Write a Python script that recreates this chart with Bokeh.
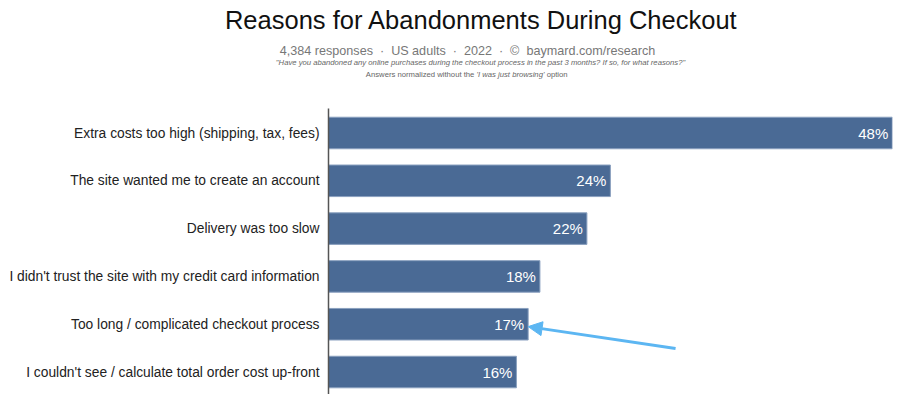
from bokeh.plotting import figure
from bokeh.layouts import column
from bokeh.models import Range1d, Label, Arrow, NormalHead, FixedTicker, ColumnDataSource
from bokeh.core.properties import value
from bokeh.embed import file_html
from bokeh.resources import INLINE

categories = [
    "Extra costs too high (shipping, tax, fees)",
    "The site wanted me to create an account",
    "Delivery was too slow",
    "I didn't trust the site with my credit card information",
    "Too long / complicated checkout process",
    "I couldn't see / calculate total order cost up-front",
]
values = [48, 24, 22, 18, 17, 16]
value_labels = ["48%", "24%", "22%", "18%", "17%", "16%"]

NB = "\u00a0"
title_text = "Reasons for Abandonments During Checkout"
subtitle_text = (f"4,384 responses{NB}{NB}\u00b7{NB}{NB}US adults{NB}{NB}\u00b7{NB}{NB}2022"
                 f"{NB}{NB}\u00b7{NB}{NB}\u00a9{NB}{NB}baymard.com/research")
question_text = "\"Have you abandoned any online purchases during the checkout process in the past 3 months? If so, for what reasons?\""
note_parts = [f"Answers normalized without the{NB}", "'I was just browsing'", f"{NB}option"]

FONT = "Liberation Sans"
W = 900
HEAD_H = 108
CHART_H = 394 - HEAD_H
LEFT = 328

# ---- header (title block) ----
head = figure(width=W, height=HEAD_H, output_backend="svg", toolbar_location=None,
              x_range=Range1d(0, W), y_range=Range1d(HEAD_H, 0),
              min_border=0, min_border_left=0, min_border_right=0,
              min_border_top=0, min_border_bottom=0)
head.frame_align = False
head.axis.visible = False
head.grid.visible = False
head.outline_line_color = None

def lab(text, px, py, size, color, style="normal", align="center"):
    head.add_layout(Label(x=px, y=py, text=text,
                          text_font=FONT, text_font_size=size, text_color=color,
                          text_font_style=style, text_align=align, text_baseline="middle"))

lab(title_text, 481, 19, "25.5px", "#111111")
lab(subtitle_text, 467, 50, "12.6px", "#777777")
lab(question_text, 480, 62, "7.7px", "#666666", style="italic")
lab(note_parts[0], 476, 74, "7.7px", "#666666", align="right")
lab(note_parts[1], 476, 74, "7.7px", "#666666", style="italic", align="left")
lab(note_parts[2], 544, 74, "7.7px", "#666666", align="left")

# ---- bar chart ----
idx = list(range(len(categories)))
src = ColumnDataSource(dict(y=idx, v=values, lab=value_labels))

p = figure(width=W, height=CHART_H, output_backend="svg", toolbar_location=None,
           x_range=Range1d(0, 48.02), y_range=Range1d(5.47, -0.5125),
           min_border_left=LEFT, min_border_right=8, min_border_top=0, min_border_bottom=0)
p.frame_align = False
p.outline_line_color = None
p.xgrid.visible = False
p.ygrid.visible = False
p.xaxis.visible = False

p.hbar(y="y", left=0, right="v", height=0.66, source=src,
       fill_color="#4a6a95", line_color="#8aa0bf", line_width=1)
p.text(x="v", y="y", text="lab", source=src, text_align="right", text_baseline="middle",
       x_offset=-4, text_color="white", text_font=value(FONT), text_font_size="15px")

yax = p.yaxis[0]
yax.ticker = FixedTicker(ticks=idx)
yax.major_label_overrides = {i: c for i, c in zip(idx, categories)}
yax.major_tick_line_color = None
yax.major_tick_out = 0
yax.major_tick_in = 0
yax.minor_tick_line_color = None
yax.axis_line_color = "#555555"
yax.axis_line_width = 1.5
yax.major_label_text_font = FONT
yax.major_label_text_font_size = "13.8px"
yax.major_label_text_color = "#222222"
yax.major_label_standoff = 9

# arrow annotation pointing at the 17% bar
p.add_layout(Arrow(end=NormalHead(size=14, fill_color="#5cb6f2", line_color="#5cb6f2"),
                   x_start=29.55, y_start=4.51, x_end=values[4], y_end=4.05,
                   line_color="#5cb6f2", line_width=3))

layout = column(head, p, spacing=0)
open("out.html", "w").write(file_html(layout, INLINE))
